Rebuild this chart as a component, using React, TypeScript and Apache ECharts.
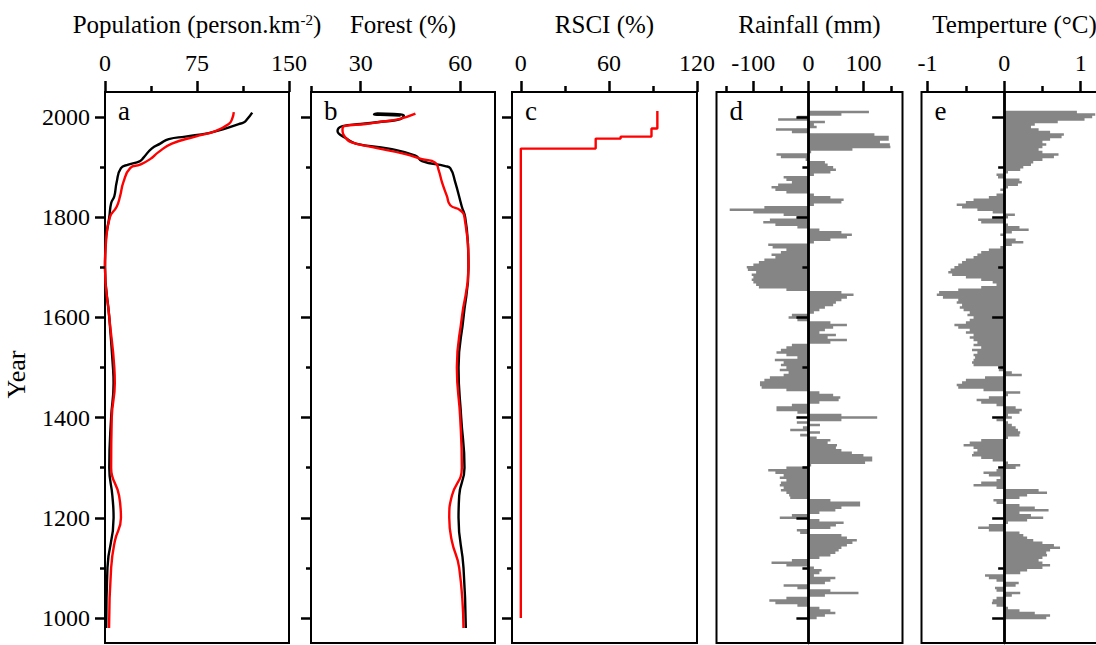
import React, { useEffect, useRef } from 'react';
import * as echarts from 'echarts';

const FONT = "'Liberation Serif', 'Times New Roman', serif";
const GRAY = '#858585';

// shared year axis
const YEAR_MIN = 950;
const YEAR_MAX = 2050;
const yearMajor = [1000, 1200, 1400, 1600, 1800, 2000];
const yearMinor = [1100, 1300, 1500, 1700, 1900];

// (a) population density, [person.km-2, year]
const popBlack = [
  [1, 980], [2, 1100], [7, 1200], [6, 1244], [3.5, 1300], [5, 1400], [7, 1469], [6.5, 1500],
  [3.5, 1600], [0, 1700], [0.5, 1750], [3.5, 1800], [5, 1828], [7.6, 1842], [9.5, 1870],
  [13, 1898], [19, 1905], [28.6, 1912], [31.4, 1919], [38, 1937], [45, 1947], [52, 1956],
  [65.5, 1961], [84.5, 1968], [98, 1977], [109, 1986], [113, 1989], [116, 1996], [120, 2009],
];
const popRed = [
  [3.3, 980], [5, 1100], [8, 1153], [13, 1200], [11.5, 1244], [5, 1300], [5.5, 1400], [8, 1469],
  [7.6, 1500], [3.5, 1600], [0, 1700], [0.8, 1750], [4, 1800], [9.5, 1821], [12.3, 1842],
  [15, 1870], [20.5, 1898], [28.6, 1905], [36.8, 1916], [43.6, 1930], [54.5, 1947], [73.6, 1961],
  [90, 1972], [100.9, 1986], [103.6, 1996], [105, 2010],
];

// (b) forest cover, [%, year]
const forestBlack = [
  [61.7, 980], [61, 1100], [59.5, 1200], [59.7, 1244], [61.3, 1300], [60.3, 1400], [59.5, 1500],
  [61, 1600], [62.5, 1700], [62.3, 1750], [61.5, 1800], [60.5, 1821], [58.5, 1870], [57, 1898],
  [55.5, 1902], [48.5, 1912], [46.5, 1923], [38.5, 1937], [28.5, 1947], [25.5, 1958], [23, 1972],
  [24.5, 1982], [30, 1986], [37, 1991], [42, 1996], [43, 2003], [40, 2006], [35, 2007],
  [34, 2005], [38, 2004], [42, 2003],
];
const forestRed = [
  [61, 980], [59.7, 1100], [57.5, 1153], [56.7, 1200], [57.5, 1244], [60.5, 1300], [60, 1400],
  [59, 1500], [60.5, 1600], [62.5, 1700], [61.3, 1800], [60, 1814], [57, 1824], [56, 1842],
  [54.5, 1870], [53.5, 1894], [52.5, 1909], [48.5, 1916], [43.5, 1926], [33.5, 1940],
  [27.5, 1949], [25.5, 1958], [24.5, 1975], [25, 1982], [31.5, 1986], [36.5, 1991],
  [41.5, 1996], [46.5, 2007],
];

// (c) RSCI, [%, year]
const rsci = [
  [0, 1000], [0, 1937], [51, 1937], [51, 1957], [68, 1957], [68, 1961], [89, 1961],
  [89, 1977], [93, 1977], [93, 2012],
];

// (d) rainfall and (e) temperature anomalies, one value every 5 years from 2010 back to 1000
const ANOM_START = 2010;
const ANOM_STEP = 5;
const rainfall = [
  110, 60, -20, -55, 30, 10, 15, -59, -30, 120,
  146, 146, 130, 148, 149, 80, 5, -58, -50, -5,
  30, 35, 45, 50, 40, 10, -45, -40, -30, -55,
  -67, -60, -40, 10, 40, 64, 60, 10, -80, -143,
  -100, -45, -20, -70, -82, -60, -20, 20, 60, 79,
  70, 40, 10, -73, -65, -40, -50, -67, -60, -80,
  -90, -100, -112, -110, -95, -103, -100, -103, -100, -95,
  -90, -40, 60, 82, 70, 60, 50, 45, 30, 20,
  10, -30, -36, -20, 40, 70, 45, 30, 20, 50,
  35, 70, 40, -30, -40, -50, -58, -40, -20, -61,
  -45, -50, -40, -52, -36, -45, -70, -80, -88, -88,
  -85, -40, 20, 45, 58, 55, 20, -30, -58, -58,
  -20, 60, 125, 60, -21, 21, -10, -33, 21, -15,
  15, 40, 35, 52, 50, 60, 79, 100, 116, 116,
  103, 5, -40, -73, -60, -45, -52, -40, -50, -52,
  -45, -50, -40, -35, -33, 40, 94, 94, 60, 49,
  20, -30, -52, 20, 64, 50, 40, -21, -15, 60,
  70, 88, 80, 70, 60, 55, 49, 40, 20, -30,
  -67, -40, 10, 24, 20, 10, 49, 40, 30, -45,
  -20, 40, 91, 30, -40, -71, -60, -20, 20, 40,
  49, 30, 15,
];
const temperature = [
  0.95, 1.19, 1.15, 1.05, 0.7, 0.4, 0.35, 0.45, 0.6, 0.78,
  0.75, 0.6, 0.5, 0.55, 0.5, 0.45, 0.5, 0.71, 0.65, 0.5,
  0.38, 0.35, 0.25, 0.21, 0.05, -0.1, -0.08, 0.2, 0.23, 0.18,
  0.05, -0.05, 0.02, -0.1, -0.2, -0.4, -0.5, -0.62, -0.55, -0.35,
  -0.15, 0.14, 0.05, -0.34, -0.3, 0.05, 0.2, 0.32, 0.1, -0.05,
  0.02, 0.15, 0.25, 0.1, -0.05, -0.2, -0.3, -0.35, -0.4, -0.5,
  -0.55, -0.6, -0.65, -0.7, -0.73, -0.68, -0.5, -0.3, -0.15, -0.1,
  -0.3, -0.6, -0.85, -0.88, -0.8, -0.6, -0.62, -0.55, -0.58, -0.53,
  -0.45, -0.48, -0.4, -0.45, -0.5, -0.65, -0.6, -0.45, -0.5, -0.4,
  -0.45, -0.4, -0.35, -0.4, -0.3, -0.42, -0.35, -0.4, -0.38, -0.4,
  -0.42, -0.4, -0.05, -0.07, 0.1, 0.23, -0.25, -0.5, -0.55, -0.62,
  -0.6, -0.27, 0.21, 0.05, -0.2, -0.36, -0.3, -0.1, 0.15, 0.23,
  0.2, 0.05, 0.1, -0.1, 0.05, 0.1, 0.15, 0.18, 0.21, 0.2,
  0.05, -0.3, -0.45, -0.53, -0.4, -0.35, -0.4, -0.42, -0.3, -0.15,
  0.05, 0.21, 0.15, -0.1, -0.27, -0.2, -0.05, -0.1, -0.3, -0.4,
  -0.1, 0.45, 0.56, 0.3, 0.2, -0.14, -0.1, 0.2, 0.4, 0.58,
  0.2, 0.35, 0.51, 0.3, 0.05, -0.2, -0.34, -0.2, 0.2, 0.25,
  0.3, 0.38, 0.5, 0.65, 0.73, 0.6, 0.55, 0.56, 0.5, 0.45,
  0.5, 0.6, 0.5, 0.3, 0.21, -0.25, -0.2, -0.1, 0.19, 0.15,
  -0.12, -0.1, 0.21, 0.1, -0.1, -0.15, -0.16, -0.1, 0.05, 0.2,
  0.4, 0.6, 0.55,
];

type Panel = {
  letter: string;
  left: number;
  width: number;
  min: number;
  max: number;
  major: number[];
  minor: number[];
  labels: number[];
  name: string;
  zeroAxis: boolean;
};

const panels: Panel[] = [
  { letter: 'a', left: 105, width: 184, min: 0, max: 150, major: [0, 75, 150], minor: [37.5, 112.5], labels: [0, 75, 150], name: 'Population (person.km{sup|-2})', zeroAxis: false },
  { letter: 'b', left: 311, width: 184, min: 15, max: 70.5, major: [30, 60], minor: [15, 45], labels: [30, 60], name: 'Forest (%)', zeroAxis: false },
  { letter: 'c', left: 512, width: 185, min: -6, max: 120, major: [0, 60, 120], minor: [30, 90], labels: [0, 60, 120], name: 'RSCI (%)', zeroAxis: false },
  { letter: 'd', left: 716.5, width: 186, min: -167, max: 171, major: [-100, 0, 100], minor: [-150, -50, 50, 150], labels: [-100, 0, 100], name: 'Rainfall (mm)', zeroAxis: true },
  { letter: 'e', left: 921.5, width: 186, min: -1.08, max: 1.35, major: [-1, 0, 1], minor: [-0.5, 0.5], labels: [-1, 0, 1], name: 'Temperture (°C)', zeroAxis: true },
];

const GRID_TOP = 92;
const GRID_H = 551;

const tickStyle = { color: '#000', width: 2.5 };

function anomalyData(values: number[]) {
  return values.map((v, i) => [v, ANOM_START - ANOM_STEP * i]);
}

// one filled step polygon between the zero line and the series
function stepArea(values: number[]) {
  const data = anomalyData(values);
  const half = ANOM_STEP / 2;
  return (params: any, api: any) => {
    if (params.dataIndex !== 0) return null;
    const pts: number[][] = [];
    pts.push(api.coord([0, data[0][1] + half]));
    for (const [v, y] of data) {
      pts.push(api.coord([v, y + half]));
      pts.push(api.coord([v, y - half]));
    }
    pts.push(api.coord([0, data[data.length - 1][1] - half]));
    return {
      type: 'polygon',
      shape: { points: pts },
      style: { fill: GRAY, stroke: 'none', lineWidth: 0 },
    };
  };
}

function buildOption(): any {
  const grid = panels.map((p) => ({
    left: p.left,
    top: GRID_TOP,
    width: p.width,
    height: GRID_H,
    show: true,
    borderColor: '#000',
    borderWidth: 2,
    backgroundColor: 'transparent',
    outerBoundsMode: 'none',
  }));

  const xAxis = panels.flatMap((p, i) => [
    {
      gridIndex: i,
      type: 'value',
      position: 'top',
      min: p.min,
      max: p.max,
      axisLine: { show: false, onZero: false },
      axisTick: { show: true, inside: false, length: 11, customValues: p.major, lineStyle: tickStyle },
      axisLabel: {
        show: true,
        customValues: p.labels,
        margin: 17,
        color: '#000',
        fontSize: 24,
        fontFamily: FONT,
        formatter: (v: number) => String(v),
      },
      splitLine: { show: false },
      name: p.name,
      nameLocation: 'middle',
      nameGap: 55,
      nameTextStyle: {
        color: '#000',
        fontSize: 25,
        fontFamily: FONT,
        rich: { sup: { color: '#000', fontSize: 15, fontFamily: FONT, verticalAlign: 'top' } },
      },
    },
    {
      gridIndex: i,
      type: 'value',
      position: 'top',
      min: p.min,
      max: p.max,
      axisLine: { show: false, onZero: false },
      axisTick: { show: true, inside: false, length: 6, customValues: p.minor, lineStyle: tickStyle },
      axisLabel: { show: false },
      splitLine: { show: false },
    },
  ]);

  const yAxis = panels.flatMap((p, i) => {
    const isA = i === 0;
    return [
      {
        gridIndex: i,
        type: 'value',
        position: 'left',
        min: YEAR_MIN,
        max: YEAR_MAX,
        z: 10,
        axisLine: p.zeroAxis
          ? { show: true, onZero: true, lineStyle: { color: '#000', width: 2.5 } }
          : { show: false, onZero: false },
        axisTick: { show: true, inside: false, length: p.zeroAxis ? 12 : 10, customValues: yearMajor, lineStyle: tickStyle },
        axisLabel: isA
          ? {
              show: true,
              customValues: yearMajor,
              margin: 15,
              color: '#000',
              fontSize: 24,
              fontFamily: FONT,
              formatter: (v: number) => String(v),
            }
          : { show: false },
        splitLine: { show: false },
        name: isA ? 'Year' : '',
        nameLocation: 'middle',
        nameGap: 76,
        nameTextStyle: { color: '#000', fontSize: 26, fontFamily: FONT, padding: [0, 14, 0, 0] },
      },
      {
        gridIndex: i,
        type: 'value',
        position: 'left',
        min: YEAR_MIN,
        max: YEAR_MAX,
        z: 10,
        axisLine: p.zeroAxis
          ? { show: true, onZero: true, lineStyle: { color: '#000', width: 2.5 } }
          : { show: false, onZero: false },
        axisTick: { show: true, inside: false, length: p.zeroAxis ? 6 : 5, customValues: yearMinor, lineStyle: tickStyle },
        axisLabel: { show: false },
        splitLine: { show: false },
      },
    ];
  });

  const line = (idx: number, data: number[][], color: string, smooth: boolean) => ({
    type: 'line',
    xAxisIndex: idx * 2,
    yAxisIndex: idx * 2,
    data,
    showSymbol: false,
    smooth,
    lineStyle: { color, width: 2.4 },
    itemStyle: { color },
    clip: true,
  });

  const series = [
    line(0, popBlack, '#000', true),
    line(0, popRed, '#ff0000', true),
    line(1, forestBlack, '#000', true),
    line(1, forestRed, '#ff0000', true),
    line(2, rsci, '#ff0000', false),
    {
      type: 'custom',
      xAxisIndex: 6,
      yAxisIndex: 6,
      data: anomalyData(rainfall),
      encode: { x: 0, y: 1 },
      renderItem: stepArea(rainfall),
      clip: true,
    },
    {
      type: 'custom',
      xAxisIndex: 8,
      yAxisIndex: 8,
      data: anomalyData(temperature),
      encode: { x: 0, y: 1 },
      renderItem: stepArea(temperature),
      clip: true,
    },
  ];

  const graphic = panels.map((p) => ({
    type: 'text',
    left: p.left + 13,
    top: 97,
    style: { text: p.letter, fill: '#000', fontSize: 27, fontFamily: FONT },
  }));

  return {
    animation: false,
    backgroundColor: '#fff',
    grid,
    xAxis,
    yAxis,
    series,
    graphic,
  };
}

export default function App() {
  const ref = useRef<HTMLDivElement | null>(null);

  useEffect(() => {
    if (!ref.current) return;
    const chart = echarts.init(ref.current, null, { renderer: 'svg' });
    chart.setOption(buildOption());
    return () => chart.dispose();
  }, []);

  return (
    <div style={{ position: 'absolute', left: 0, top: 0, width: 1096, height: 645, overflow: 'hidden', background: '#fff' }}>
      <div ref={ref} style={{ width: 1120, height: 645 }} />
    </div>
  );
}
